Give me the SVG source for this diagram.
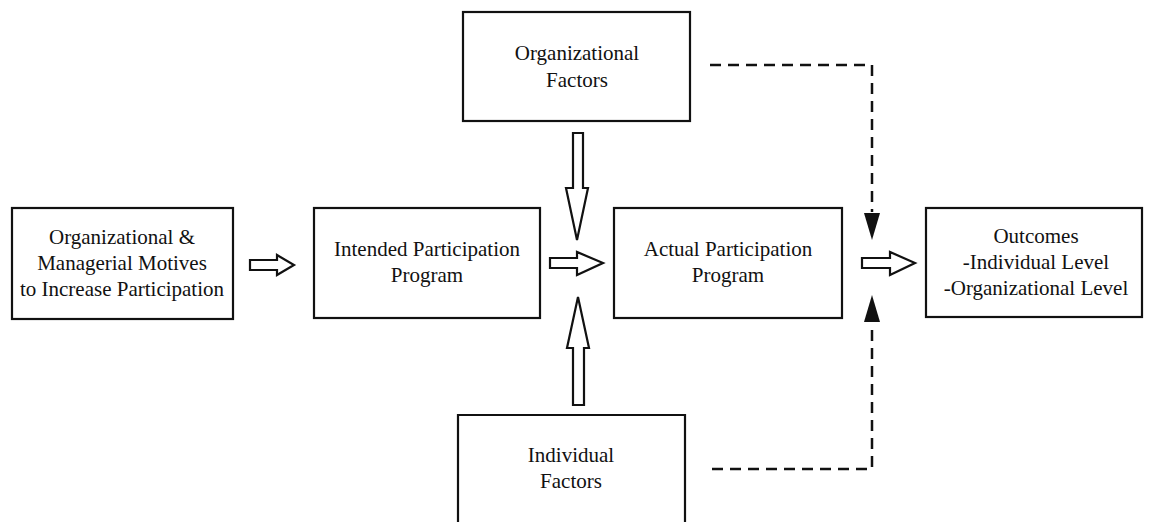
<svg xmlns="http://www.w3.org/2000/svg" width="1149" height="522" viewBox="0 0 1149 522">
  <defs>
    <style>
      .box { fill: #fff; stroke: #111; stroke-width: 2.2; }
      .label { font-family: "Liberation Serif", "Times New Roman", serif; font-size: 21px; fill: #111; text-anchor: middle; }
      .block { fill: #fff; stroke: #111; stroke-width: 2.2; stroke-linejoin: miter; }
      .dash { fill: none; stroke: #111; stroke-width: 2.5; stroke-dasharray: 11 7; }
    </style>
  </defs>
  <rect width="1149" height="522" fill="#fff"/>

  <g id="motives">
    <rect class="box" x="12" y="208" width="221" height="111"/>
    <text class="label" x="122" y="244">Organizational &amp;</text>
    <text class="label" x="122" y="270">Managerial Motives</text>
    <text class="label" x="122" y="296">to Increase Participation</text>
  </g>

  <g id="intended">
    <rect class="box" x="314" y="208" width="226" height="110"/>
    <text class="label" x="427" y="256">Intended Participation</text>
    <text class="label" x="427" y="282">Program</text>
  </g>

  <g id="actual">
    <rect class="box" x="614" y="208" width="228" height="110"/>
    <text class="label" x="728" y="256">Actual Participation</text>
    <text class="label" x="728" y="282">Program</text>
  </g>

  <g id="outcomes">
    <rect class="box" x="926" y="208" width="216" height="109"/>
    <text class="label" x="1036" y="243">Outcomes</text>
    <text class="label" x="1036" y="269">-Individual Level</text>
    <text class="label" x="1036" y="295">-Organizational Level</text>
  </g>

  <g id="org-factors">
    <rect class="box" x="463" y="12" width="227" height="109"/>
    <text class="label" x="577" y="60">Organizational</text>
    <text class="label" x="577" y="87">Factors</text>
  </g>

  <g id="ind-factors">
    <path class="box" d="M458,530 L458,415 L685,415 L685,530"/>
    <text class="label" x="571" y="462">Individual</text>
    <text class="label" x="571" y="488">Factors</text>
  </g>

  <g id="connectors">
    <!-- hollow block arrows -->
    <path class="block" d="M250,260 L277,260 L277,255 L294,265 L277,275 L277,270 L250,270 Z"/>
    <path class="block" d="M550,258 L577,258 L577,252 L603,263 L577,275 L577,268 L550,268 Z"/>
    <path class="block" d="M862,258 L890,258 L890,252 L915,263 L890,275 L890,268 L862,268 Z"/>
    <path class="block" d="M573,133 L583,133 L583,188 L588,188 L577,240 L566,188 L573,188 Z"/>
    <path class="block" d="M573,405 L584,405 L584,348 L589,348 L578,297 L567,348 L573,348 Z"/>
    <!-- dashed influence lines with solid heads -->
    <path class="dash" d="M710,65 L872,65 L872,212"/>
    <path d="M864,213 L880,213 L872,240 Z" fill="#111"/>
    <path class="dash" d="M712,469 L872,469 L872,323"/>
    <path d="M864,322 L880,322 L872,295 Z" fill="#111"/>
  </g>
</svg>
